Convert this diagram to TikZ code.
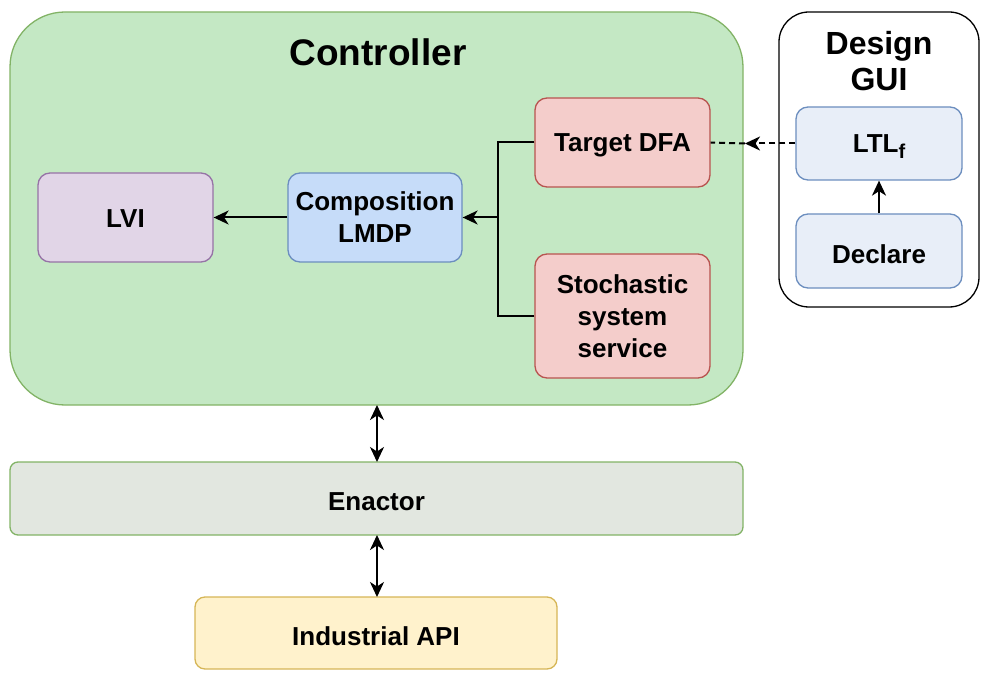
\documentclass[tikz,border=0pt]{standalone}
\usepackage{fontspec}
\setmainfont{Liberation Sans}
\usetikzlibrary{arrows.meta}
\definecolor{ctrlfill}{HTML}{C4E8C4}
\definecolor{ctrlline}{HTML}{82B366}
\definecolor{bluefill}{HTML}{E8EEF8}
\definecolor{blueline}{HTML}{6C8EBF}
\definecolor{compfill}{HTML}{C6DCF9}
\definecolor{redfill}{HTML}{F4CDCB}
\definecolor{redline}{HTML}{B85450}
\definecolor{purpfill}{HTML}{E1D5E7}
\definecolor{purpline}{HTML}{9673A6}
\definecolor{enfill}{HTML}{E2E7E0}
\definecolor{yelfill}{HTML}{FFF2CC}
\definecolor{yelline}{HTML}{D6B656}
\newcommand{\lowtxt}[1]{\raisebox{-3pt}[\height][\depth]{#1}}
\tikzset{
  box/.style={draw, line width=1.3pt, rounded corners=12pt, align=center,
    font=\fontsize{26}{32}\selectfont\bfseries, inner sep=0pt},
  conn/.style={line width=2pt, -{Stealth[length=15pt,width=14pt,inset=4.5pt]}},
  biconn/.style={line width=2pt, {Stealth[length=15pt,width=14pt,inset=4.5pt]}-{Stealth[length=15pt,width=14pt,inset=4.5pt]}},
}
\begin{document}
\begin{tikzpicture}[x=1pt,y=-1pt]
\useasboundingbox (0,0) rectangle (991,679);
% containers
\draw[fill=ctrlfill, draw=ctrlline, line width=1.3pt, rounded corners=55pt] (10,12) rectangle (743,405);
\node[font=\fontsize{37}{42}\selectfont\bfseries] (ctrltitle) at (378,52) {Controller};
\draw[fill=white, draw=black, line width=1.3pt, rounded corners=30pt] (779,12) rectangle (979,307);
\node[font=\fontsize{32}{36}\selectfont\bfseries, align=center] (guititle) at (879,61) {Design\\GUI};
% boxes
\node[box, fill=bluefill, draw=blueline, minimum width=166pt, minimum height=73pt] (ltl) at (879,143.5) {\lowtxt{LTL\raisebox{-0.22em}{\fontsize{20}{20}\selectfont f}}};
\node[box, fill=bluefill, draw=blueline, minimum width=166pt, minimum height=74pt] (declare) at (879,251) {\lowtxt{Declare}};
\node[box, fill=redfill, draw=redline, minimum width=175pt, minimum height=89pt] (dfa) at (622.5,142.5) {\lowtxt{Target DFA}};
\node[box, fill=redfill, draw=redline, minimum width=175pt, minimum height=124pt] (sss) at (622.5,316) {Stochastic\\system\\service};
\node[box, fill=compfill, draw=blueline, minimum width=174pt, minimum height=89pt] (comp) at (375,217.5) {Composition\\LMDP};
\node[box, fill=purpfill, draw=purpline, minimum width=175pt, minimum height=89pt] (lvi) at (125.5,217.5) {\raisebox{-1.5pt}[\height][\depth]{LVI}};
\node[box, fill=enfill, draw=ctrlline, minimum width=733pt, minimum height=73pt, rounded corners=8pt] (enactor) at (376.5,498.5) {\lowtxt{Enactor}};
\node[box, fill=yelfill, draw=yelline, minimum width=362pt, minimum height=72pt, rounded corners=10pt] (api) at (376,633) {\lowtxt{Industrial API}};
% coordinates
\coordinate (ctrlbot) at (377,405);
\coordinate (enbot) at (377,535);
\coordinate (entop) at (377,462);
\coordinate (apitop) at (377,597);
\coordinate (mid) at (745,143.5);
\coordinate (jx) at (498,217.5);
% connectors
\draw[line width=2pt] (dfa.west) -| (jx);
\draw[line width=2pt] (sss.west) -| (jx);
\draw[conn] (jx) -- (comp.east);
\draw[conn] (comp.west) -- (lvi.east);
\draw[conn] (declare.north) -- (ltl.south);
\draw[conn, dash pattern=on 6pt off 4pt] (ltl.west) -- (mid);
\draw[line width=2pt, dash pattern=on 6pt off 4pt] (mid) -- (dfa.east);
\draw[biconn] (ctrlbot) -- (entop);
\draw[biconn] (enbot) -- (apitop);
\end{tikzpicture}
\end{document}
